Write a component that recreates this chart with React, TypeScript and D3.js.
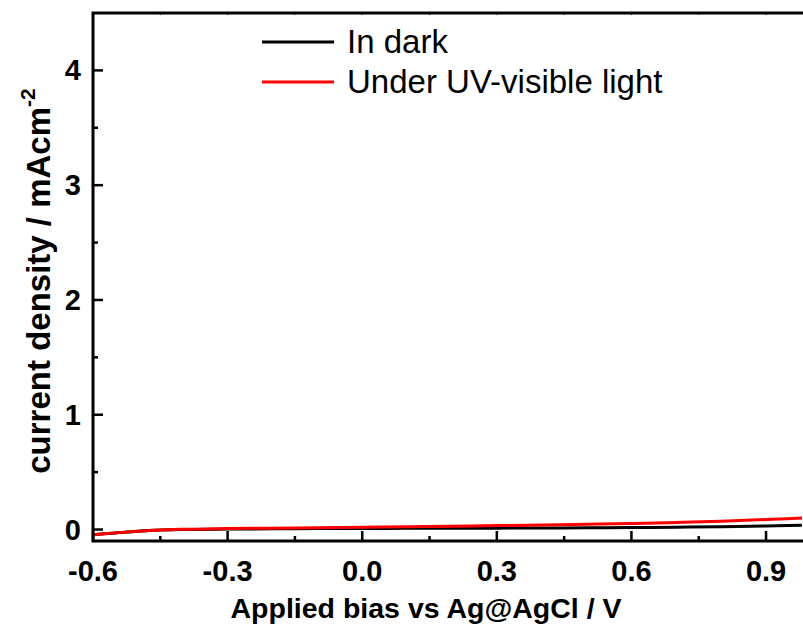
import React, { useEffect, useRef } from 'react';
import * as d3 from 'd3';

// applied bias (V vs Ag@AgCl)
const bias = [-0.6, -0.55, -0.5, -0.45, -0.4, -0.3, -0.2, -0.1, 0.0, 0.1, 0.2, 0.3, 0.4, 0.5, 0.6, 0.7, 0.8, 0.9, 0.98];
// current density (mA cm-2)
const darkCurrent = [-0.045, -0.03, -0.015, -0.005, 0.0, 0.004, 0.006, 0.008, 0.009, 0.01, 0.011, 0.012, 0.013, 0.015, 0.017, 0.02, 0.025, 0.031, 0.037];
const lightCurrent = [-0.045, -0.03, -0.015, -0.004, 0.002, 0.008, 0.012, 0.016, 0.02, 0.024, 0.029, 0.034, 0.04, 0.046, 0.053, 0.062, 0.073, 0.087, 0.1];

const xTicks = [-0.6, -0.3, 0.0, 0.3, 0.6, 0.9];
const xMinor = [-0.45, -0.15, 0.15, 0.45, 0.75];
const yTicks = [0, 1, 2, 3, 4];
const yMinor = [0.5, 1.5, 2.5, 3.5];

const seriesNames = ['In dark', 'Under UV-visible light'];
const seriesColors = ['#000000', '#ff0000'];

const W = 803;
const H = 628;
const FONT = '"Liberation Sans", Arial, sans-serif';

const App = () => {
    const svgRef = useRef(null);

    useEffect(() => {
        const svg = d3.select(svgRef.current);
        svg.selectAll('*').remove();

        const left = 93, top = 13, bottom = 541;
        const x = d3.scaleLinear().domain([-0.6, 1.0]).range([left, left + 1.6 * 448.7]);
        const y = d3.scaleLinear().domain([-0.1, 4.5]).range([bottom, top]);
        const right = x(1.0);

        svg.append('clipPath').attr('id', 'plot')
            .append('rect').attr('x', left).attr('y', top).attr('width', right - left).attr('height', bottom - top);

        // lines
        const line = d3.line()
            .x((d) => x(d[0]))
            .y((d) => y(d[1]))
            .curve(d3.curveMonotoneX);

        [darkCurrent, lightCurrent].forEach((vals, i) => {
            svg.append('path')
                .datum(bias.map((b, j) => [b, vals[j]]))
                .attr('clip-path', 'url(#plot)')
                .attr('d', line)
                .attr('fill', 'none')
                .attr('stroke', seriesColors[i])
                .attr('stroke-width', 3);
        });

        // ticks
        const ax = svg.append('g').attr('stroke', '#000').attr('stroke-width', 2.5);
        xTicks.forEach((t) => ax.append('line').attr('x1', x(t)).attr('x2', x(t)).attr('y1', bottom).attr('y2', bottom - 10));
        xMinor.forEach((t) => ax.append('line').attr('x1', x(t)).attr('x2', x(t)).attr('y1', bottom).attr('y2', bottom - 5));
        xTicks.concat(xMinor).forEach((t) => ax.append('line').attr('x1', x(t)).attr('x2', x(t)).attr('y1', top).attr('y2', top + 2).attr('stroke-width', 1));
        yTicks.forEach((t) => ax.append('line').attr('x1', left).attr('x2', left + 10).attr('y1', y(t)).attr('y2', y(t)));
        yMinor.forEach((t) => ax.append('line').attr('x1', left).attr('x2', left + 5).attr('y1', y(t)).attr('y2', y(t)));

        // frame
        svg.append('path')
            .attr('d', `M${right},${top}H${left}V${bottom}H${right}`)
            .attr('fill', 'none')
            .attr('stroke', '#000')
            .attr('stroke-width', 3);

        // tick labels
        const fmt = (v) => d3.format('.1f')(v).replace('\u2212', '-');
        svg.append('g').selectAll('text').data(xTicks).join('text')
            .attr('x', (d) => x(d))
            .attr('y', 581)
            .attr('text-anchor', 'middle')
            .attr('font-family', FONT)
            .attr('font-weight', 'bold')
            .attr('font-size', 29)
            .text((d) => fmt(d));

        svg.append('g').selectAll('text').data(yTicks).join('text')
            .attr('x', 81)
            .attr('y', (d) => y(d) + 10)
            .attr('text-anchor', 'end')
            .attr('font-family', FONT)
            .attr('font-weight', 'bold')
            .attr('font-size', 29)
            .text((d) => d);

        // axis titles
        svg.append('text')
            .attr('x', 426)
            .attr('y', 618)
            .attr('text-anchor', 'middle')
            .attr('font-family', FONT)
            .attr('font-weight', 'bold')
            .attr('font-size', 28.5)
            .text('Applied bias vs Ag@AgCl / V');

        const yt = svg.append('text')
            .attr('transform', `translate(50,${(top + bottom) / 2 + 4}) rotate(-90)`)
            .attr('text-anchor', 'middle')
            .attr('font-family', FONT)
            .attr('font-weight', 'bold')
            .attr('font-size', 33);
        yt.append('tspan').text('current density / mAcm');
        yt.append('tspan').attr('dy', -15).attr('font-size', 21).text('-2');

        // legend
        seriesNames.forEach((name, i) => {
            const ly = 42 + i * 40;
            svg.append('line')
                .attr('x1', 262).attr('x2', 334)
                .attr('y1', ly).attr('y2', ly)
                .attr('stroke', seriesColors[i])
                .attr('stroke-width', 3);
            svg.append('text')
                .attr('x', 347)
                .attr('y', ly + 11)
                .attr('font-family', FONT)
                .attr('font-size', 33)
                .text(name);
        });
    }, []);

    return (
        <svg ref={svgRef} width={W} height={H}
            style={{ position: 'absolute', left: 0, top: 0, background: '#fff' }} />
    );
};

export default App;
